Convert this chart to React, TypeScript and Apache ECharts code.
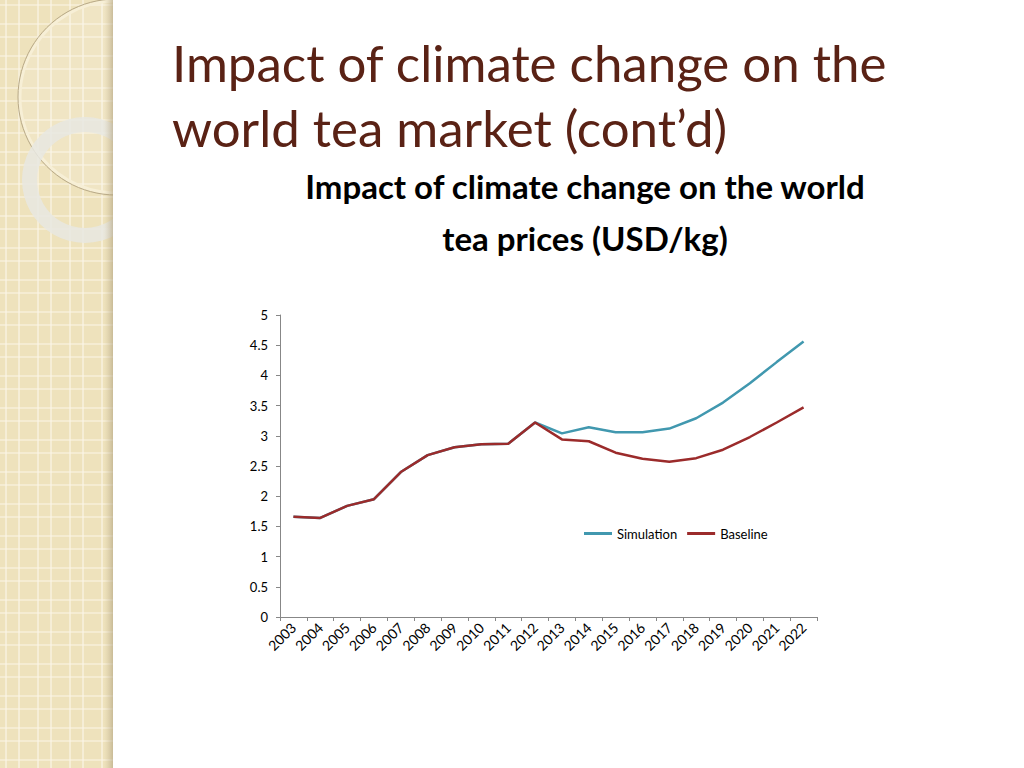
import React, { useEffect, useRef } from "react";
import * as echarts from "echarts";

const years = ["2003","2004","2005","2006","2007","2008","2009","2010","2011","2012","2013","2014","2015","2016","2017","2018","2019","2020","2021","2022"];
const simulation = [1.66,1.64,1.84,1.95,2.40,2.68,2.81,2.86,2.87,3.22,3.04,3.14,3.06,3.06,3.12,3.29,3.55,3.87,4.22,4.56];
const baseline = [1.66,1.64,1.84,1.95,2.40,2.68,2.81,2.86,2.87,3.22,2.94,2.91,2.72,2.62,2.57,2.63,2.77,2.98,3.22,3.47];
const yTicks = [0, 0.5, 1, 1.5, 2, 2.5, 3, 3.5, 4, 4.5, 5];

const slideTitle = ["Impact of climate change on the", "world tea market (cont\u2019d)"];
const chartTitle = ["Impact of climate change on the world", "tea prices (USD/kg)"];

export default function App() {
  const ref = useRef<HTMLDivElement>(null);
  useEffect(() => {
    if (!ref.current) return;
    const chart = echarts.init(ref.current, null, { renderer: "svg" });

    const deco: any[] = [];
    deco.push({ type: "rect", shape: { x: 0, y: 0, width: 113, height: 768 }, style: { fill: "#EEE2BC" }, z: 0 });
    let x = 6;
    let k = 0;
    while (x < 112) {
      deco.push({ type: "line", shape: { x1: x, y1: 0, x2: x, y2: 768 }, style: { stroke: "#FBF6E8", lineWidth: 1.2 }, z: 1 });
      x += k % 2 === 0 ? 13 : 19;
      k++;
    }
    let y = 5;
    k = 0;
    while (y < 768) {
      deco.push({ type: "line", shape: { x1: 0, y1: y, x2: 113, y2: y }, style: { stroke: "#FBF6E8", lineWidth: 1.2 }, z: 1 });
      y += k % 2 === 0 ? 19 : 13;
      k++;
    }
    deco.push({ type: "circle", shape: { cx: 116, cy: 97, r: 96 }, style: { fill: "rgba(255,255,255,0.12)", stroke: "#F7EFD6", lineWidth: 3 }, z: 2 });
    deco.push({ type: "circle", shape: { cx: 116, cy: 97, r: 98 }, style: { fill: "none", stroke: "#B8A987", lineWidth: 1 }, z: 2 });
    deco.push({ type: "ring", shape: { cx: 85, cy: 180, r: 63, r0: 48 }, style: { fill: "rgba(232,232,226,0.85)" }, z: 3 });
    deco.push({ type: "rect", shape: { x: 104, y: 0, width: 9, height: 768 }, style: { fill: new echarts.graphic.LinearGradient(0, 0, 1, 0, [{ offset: 0, color: "rgba(200,185,150,0)" }, { offset: 1, color: "rgba(170,155,120,0.55)" }]) }, z: 4 });
    deco.push({ type: "rect", shape: { x: 113, y: 0, width: 120, height: 260 }, style: { fill: "#FFFFFF" }, z: 5 });

    const texts: any[] = [];
    slideTitle.forEach((t, i) => {
      texts.push({ type: "text", x: 172, y: 37 + i * 65, z: 10, style: { text: t, fill: "#5A2215", font: "51px Lato", verticalAlign: "top" } });
    });
    chartTitle.forEach((t, i) => {
      texts.push({ type: "text", x: 585, y: 169 + i * 52, z: 10, style: { text: t, fill: "#000000", font: "bold 33px Lato", align: "center", verticalAlign: "top" } });
    });

    chart.setOption({
      animation: false,
      backgroundColor: "#FFFFFF",
      graphic: [...deco, ...texts],
      grid: { left: 280, right: 207, top: 315, bottom: 151, containLabel: false },
      legend: {
        left: 579,
        top: 522,
        itemWidth: 28,
        itemHeight: 3,
        itemGap: 10,
        textStyle: { fontFamily: "Lato", fontSize: 13, color: "#000" },
        data: [
          { name: "Simulation", icon: "rect" },
          { name: "Baseline", icon: "rect" },
        ],
      },
      xAxis: {
        type: "category",
        data: years,
        boundaryGap: true,
        axisLine: { lineStyle: { color: "#878787" } },
        axisTick: { show: true, interval: 0, length: 4, lineStyle: { color: "#878787" } },
        axisLabel: { interval: 0, rotate: 45, fontFamily: "Lato", fontSize: 14, color: "#000", margin: 8 },
      },
      yAxis: {
        type: "value",
        min: yTicks[0],
        max: yTicks[yTicks.length - 1],
        interval: 0.5,
        axisLine: { show: true, lineStyle: { color: "#878787" } },
        axisTick: { show: true, length: 4, lineStyle: { color: "#878787" } },
        splitLine: { show: false },
        axisLabel: { fontFamily: "Lato", fontSize: 13, color: "#000", margin: 12 },
      },
      series: [
        { name: "Simulation", type: "line", data: simulation, showSymbol: false, symbol: "none", lineStyle: { color: "#4198AF", width: 2.5 }, itemStyle: { color: "#4198AF" }, z: 2 },
        { name: "Baseline", type: "line", data: baseline, showSymbol: false, symbol: "none", lineStyle: { color: "#9B2B2B", width: 2.5 }, itemStyle: { color: "#9B2B2B" }, z: 3 },
      ],
    });
    return () => chart.dispose();
  }, []);
  return <div ref={ref} style={{ position: "absolute", left: 0, top: 0, width: 1024, height: 768 }} />;
}
